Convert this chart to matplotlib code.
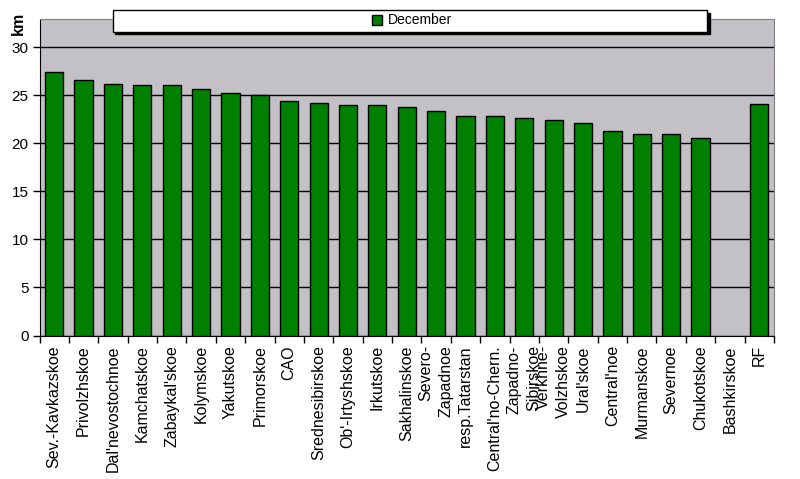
import matplotlib.pyplot as plt
from matplotlib.patches import Rectangle

regions = ["Sev.-Kavkazskoe", "Privolzhskoe", "Dal'nevostochnoe", "Kamchatskoe",
           "Zabaykal'skoe", "Kolymskoe", "Yakutskoe", "Primorskoe", "CAO",
           "Srednesibirskoe", "Ob'-Irtyshskoe", "Irkutskoe", "Sakhalinskoe",
           "Severo-\nZapadnoe", "resp.Tatarstan", "Central'no-Chern.",
           "Zapadno-\nSibirskoe", "Verkhne-\nVolzhskoe", "Ural'skoe",
           "Central'noe", "Murmanskoe", "Severnoe", "Chukotskoe",
           "Bashkirskoe", "RF"]
# Bashkirskoe has no value in the chart
december = [27.4, 26.55, 26.15, 26.05, 26.05, 25.65, 25.2, 25.0, 24.4, 24.2,
            23.95, 23.95, 23.75, 23.35, 22.9, 22.8, 22.6, 22.4, 22.1,
            21.25, 20.95, 20.95, 20.6, float("nan"), 24.05]
yticks = [0, 5, 10, 15, 20, 25, 30]

plt.rcParams['font.family'] = ['Liberation Sans', 'DejaVu Sans']

fig = plt.figure(figsize=(8, 4.79), dpi=100)
fig.patch.set_facecolor("white")
ax = fig.add_axes([39.5 / 800, 1 - 335.5 / 479, 734.5 / 800, 317 / 479])
ax.set_facecolor("#c3c1c5")

x = list(range(len(regions)))
bars = ax.bar(x, december, width=0.62, color="#008000", edgecolor="black",
              linewidth=1.0, label="December", zorder=3)

ax.set_xlim(-0.5, len(regions) - 0.5)
ax.set_ylim(0, 33)
ax.set_yticks(yticks)
ax.yaxis.grid(True, color="black", linewidth=1.0, zorder=1)
ax.set_axisbelow(True)

ax.set_xticks(x)
ax.set_xticklabels(regions, rotation=90, va="top", ha="center",
                   multialignment="right", fontsize=11.5, linespacing=1.4)
ax.set_xticks([i - 0.5 for i in range(len(regions) + 1)], minor=True)
ax.tick_params(axis="x", which="major", length=0, pad=7)
ax.tick_params(axis="x", which="minor", length=5, width=1, direction="out")
ax.tick_params(axis="y", length=5, width=1, labelsize=11, pad=3)

ax.spines["top"].set_color("#808080")
ax.spines["right"].set_color("#808080")
ax.spines["left"].set_color("black")
ax.spines["bottom"].set_color("black")

fig.text(18 / 800, 1 - 23.5 / 479, "km", rotation=90, fontsize=11.5,
         fontweight="bold", ha="center", va="center")

# legend box with shadow
bx, by, bw, bh = 113 / 800, 1 - 31.5 / 479, 594 / 800, 21.5 / 479
fig.patches.append(Rectangle((bx + 2.5 / 800, by - 2.5 / 479), bw, bh,
                             transform=fig.transFigure, facecolor="black",
                             edgecolor="black", zorder=5))
fig.patches.append(Rectangle((bx, by), bw, bh, transform=fig.transFigure,
                             facecolor="white", edgecolor="black",
                             linewidth=1.0, zorder=6))
leg = fig.legend(handles=[bars], loc="center",
                 bbox_to_anchor=(412 / 800, 1 - 20.5 / 479), frameon=False,
                 fontsize=10, handlelength=0.75, handleheight=0.75,
                 handletextpad=0.4)
leg.set_zorder(7)

plt.savefig("out.png", dpi=100)
